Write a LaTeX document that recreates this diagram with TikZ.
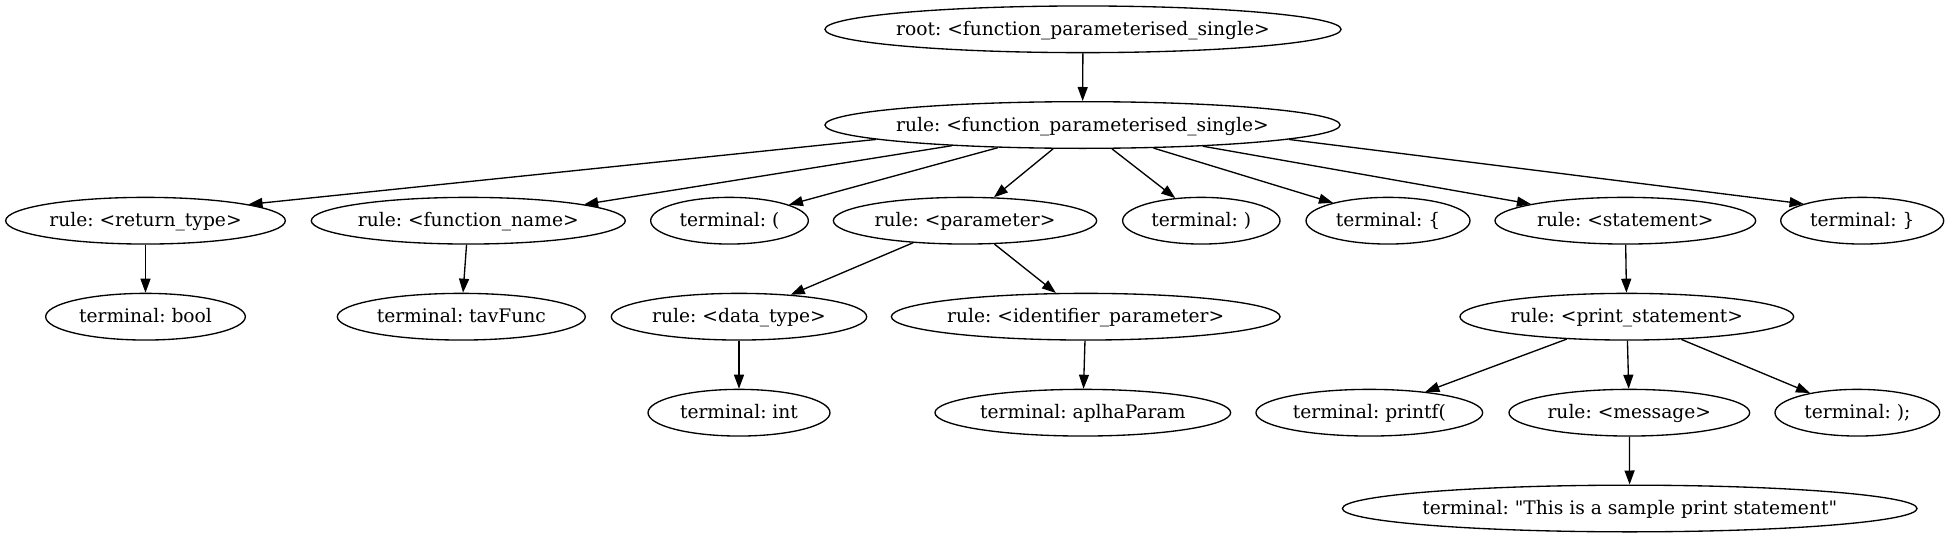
\documentclass[tikz,border=0pt]{standalone}
\usepackage{fontspec}
\setmainfont{DejaVu Serif}
\usetikzlibrary{shapes.geometric,arrows.meta}
\frenchspacing
\newcommand\gvlabel[1]{\makebox[0pt]{\rule[-5pt]{0pt}{19pt}#1}}
\begin{document}
\begin{tikzpicture}[x=0.75pt,y=-0.75pt,
  gv/.style={ellipse,draw,line width=1pt,inner sep=0pt,minimum height=35pt,
             font=\fontsize{14}{16}\selectfont\frenchspacing},
  gw/.style={minimum width=0.75*#1pt-1pt},
  gvedge/.style={draw,line width=1pt,-{Triangle[length=10.5pt,width=7.5pt]}}]
\useasboundingbox (0,0) rectangle (1951,539);
% row 0 and 1
\node[gv,gw=517.4] (root)  at (1083,29.3)    {\gvlabel{root: <function\_parameterised\_single>}};
\node[gv,gw=516.4] (r1)    at (1082.5,125)   {\gvlabel{rule: <function\_parameterised\_single>}};
% row 2
\node[gv,gw=281]   (rett)  at (145.5,220.7)  {\gvlabel{rule: <return\_type>}};
\node[gv,gw=315.3] (fname) at (468.3,220.7)  {\gvlabel{rule: <function\_name>}};
\node[gv,gw=159]   (lpar)  at (729.5,220.7)  {\gvlabel{terminal: (}};
\node[gv,gw=264.6] (param) at (965,220.7)    {\gvlabel{rule: <parameter>}};
\node[gv,gw=158.7] (rpar)  at (1201.3,220.7) {\gvlabel{terminal: )}};
\node[gv,gw=165.3] (lbr)   at (1388,220.7)   {\gvlabel{terminal: \{}};
\node[gv,gw=262]   (stmt)  at (1625.3,220.7) {\gvlabel{rule: <statement>}};
\node[gv,gw=164.3] (rbr)   at (1862.2,220.7) {\gvlabel{terminal: \}}};
% row 3
\node[gv,gw=201]   (bool)  at (145.5,316.7)  {\gvlabel{terminal: bool}};
\node[gv,gw=249.3] (tav)   at (461.3,316.7)  {\gvlabel{terminal: tavFunc}};
\node[gv,gw=256.7] (dtype) at (739,316.7)    {\gvlabel{rule: <data\_type>}};
\node[gv,gw=390]   (ident) at (1085.7,316.7) {\gvlabel{rule: <identifier\_parameter>}};
\node[gv,gw=335]   (pst)   at (1626.8,316.7) {\gvlabel{rule: <print\_statement>}};
% row 4
\node[gv,gw=183.3] (int)   at (739,412.7)    {\gvlabel{terminal: int}};
\node[gv,gw=297]   (alpha) at (1082.8,412.7) {\gvlabel{terminal: aplhaParam}};
\node[gv,gw=228]   (printf) at (1369.3,412.7) {\gvlabel{terminal: printf(}};
\node[gv,gw=242]   (msg)   at (1629.3,412.7) {\gvlabel{rule: <message>}};
\node[gv,gw=166]   (semi)  at (1857.3,412.7) {\gvlabel{terminal: );}};
% row 5
\node[gv,gw=576]   (str)   at (1629.7,508.5) {\gvlabel{terminal: \textquotedbl This is a sample print statement\textquotedbl}};
% edges
\draw[gvedge] (root) -- (r1);
\draw[gvedge] (r1.184.3) -- (rett.9.15);
\draw[gvedge] (r1.189.0) -- (fname.8.94);
\draw[gvedge] (r1.195.4) -- (lpar.15.9);
\draw[gvedge] (r1.219.3) -- (param.39.1);
\draw[gvedge] (r1.321.4) -- (rpar.139.9);
\draw[gvedge] (r1.342.7) -- (lbr.162.1);
\draw[gvedge] (r1.350.6) -- (stmt.170.0);
\draw[gvedge] (r1.356.3) -- (rbr.164.8);
\draw[gvedge] (rett) -- (bool);
\draw[gvedge] (fname) -- (tav);
\draw[gvedge] (param) -- (dtype);
\draw[gvedge] (param) -- (ident);
\draw[gvedge] (stmt) -- (pst);
\draw[gvedge] (dtype) -- (int);
\draw[gvedge] (ident) -- (alpha);
\draw[gvedge] (pst) -- (printf);
\draw[gvedge] (pst) -- (msg);
\draw[gvedge] (pst) -- (semi);
\draw[gvedge] (msg) -- (str);
\end{tikzpicture}
\end{document}
